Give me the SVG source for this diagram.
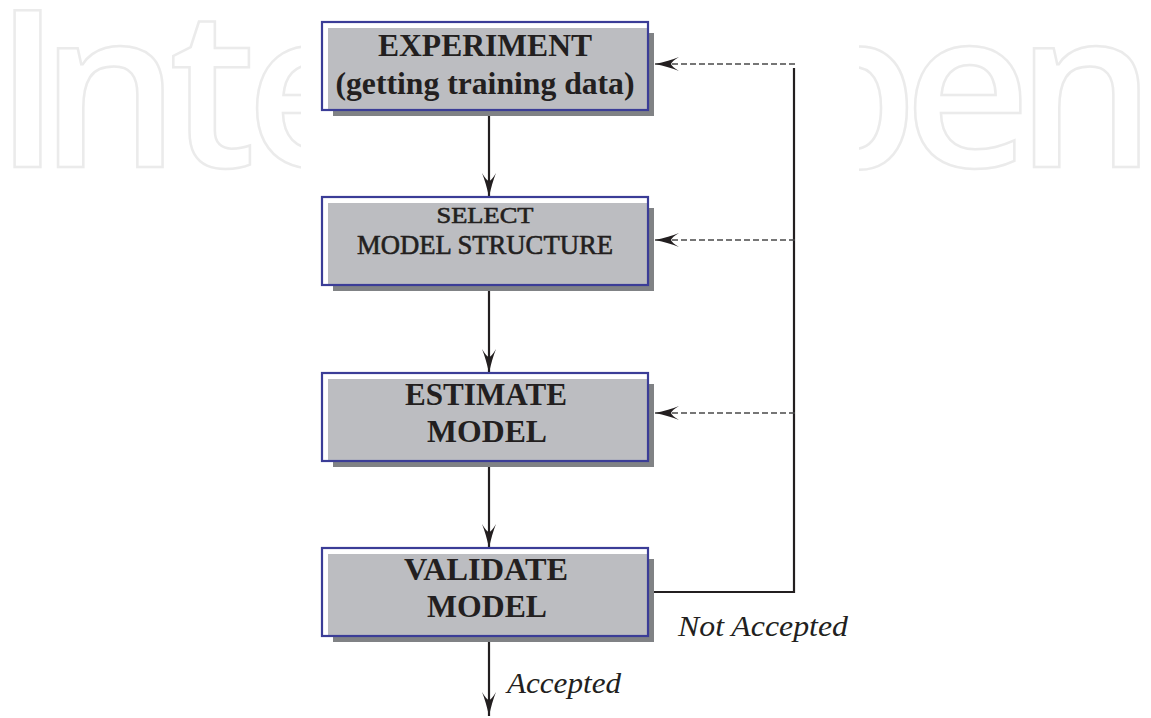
<svg xmlns="http://www.w3.org/2000/svg" width="1151" height="718" viewBox="0 0 1151 718">
<style>
.wm{font-family:"Open Sans",sans-serif;font-size:220px;font-weight:600;fill:#ffffff;stroke:#ebebeb;stroke-width:2.5}
.shadow{fill:#808285}
.face{fill:#bcbdc1}
.frame{fill:none;stroke:#3b3d97;stroke-width:2.2}
.tb{font-family:"Liberation Serif","Times New Roman",serif;font-weight:bold;fill:#231f20;text-anchor:middle}
.tr{font-family:"Liberation Serif","Times New Roman",serif;fill:#231f20;stroke:#231f20;stroke-width:0.6;text-anchor:middle}
.ti{font-family:"Liberation Serif","Times New Roman",serif;font-style:italic;fill:#231f20}
.solid{fill:none;stroke:#231f20;stroke-width:2.2}
.dash{fill:none;stroke:#4a4a4a;stroke-width:1.6;stroke-dasharray:6 3}
</style>
<defs>
<marker id="ah" viewBox="0 0 24 14" refX="24" refY="7" markerWidth="24" markerHeight="14" markerUnits="userSpaceOnUse" orient="auto">
<path d="M24,7 Q10,4 0,0 Q7,4 8,7 Q7,10 0,14 Q10,10 24,7 Z" fill="#231f20"/>
</marker>
<clipPath id="cl"><rect x="0" y="0" width="301" height="718"/></clipPath>
<clipPath id="cr"><rect x="859" y="0" width="292" height="718"/></clipPath>
</defs>
<rect width="1151" height="718" fill="#ffffff"/>
<g id="watermark">
<text class="wm" clip-path="url(#cl)" x="-6 40 169 246" y="167">Inte</text>
<text class="wm" clip-path="url(#cr)" x="609 781 904 1016" y="167">Open</text>
</g>

<g id="connectors">
<line class="solid" x1="489" y1="111" x2="489" y2="197" marker-end="url(#ah)"/>
<line class="solid" x1="489" y1="286" x2="489" y2="373" marker-end="url(#ah)"/>
<line class="solid" x1="489" y1="461" x2="489" y2="548" marker-end="url(#ah)"/>
<line class="solid" x1="489" y1="636" x2="489" y2="716" marker-end="url(#ah)"/>
<polyline class="solid" points="648,592 794,592 794,68"/>
<line class="dash" x1="795" y1="64" x2="655" y2="64" marker-end="url(#ah)"/>
<line class="dash" x1="795" y1="240" x2="655" y2="240" marker-end="url(#ah)"/>
<line class="dash" x1="795" y1="413" x2="655" y2="413" marker-end="url(#ah)"/>
<text class="ti" x="678" y="636" font-size="30" textLength="170" lengthAdjust="spacingAndGlyphs">Not Accepted</text>
<text class="ti" x="507" y="693" font-size="30" textLength="114" lengthAdjust="spacingAndGlyphs">Accepted</text>
</g>

<g id="experiment">
<rect class="shadow" x="333" y="33" width="321" height="83"/>
<rect class="face" x="328" y="28" width="320" height="82"/>
<rect class="frame" x="322" y="22" width="326" height="88"/>
<text class="tb" x="485" y="56" font-size="31" textLength="214" lengthAdjust="spacingAndGlyphs">EXPERIMENT</text>
<text class="tb" x="485" y="94" font-size="31" textLength="299" lengthAdjust="spacingAndGlyphs">(getting training data)</text>
</g>

<g id="select">
<rect class="shadow" x="333" y="208" width="321" height="83"/>
<rect class="face" x="328" y="203" width="320" height="82"/>
<rect class="frame" x="322" y="197" width="326" height="88"/>
<text class="tr" x="485" y="223" font-size="24" textLength="97" lengthAdjust="spacingAndGlyphs">SELECT</text>
<text class="tr" x="485" y="254" font-size="27" textLength="256" lengthAdjust="spacingAndGlyphs">MODEL STRUCTURE</text>
</g>

<g id="estimate">
<rect class="shadow" x="333" y="384" width="321" height="83"/>
<rect class="face" x="328" y="379" width="320" height="82"/>
<rect class="frame" x="322" y="373" width="326" height="88"/>
<text class="tb" x="486" y="405" font-size="32" textLength="162" lengthAdjust="spacingAndGlyphs">ESTIMATE</text>
<text class="tb" x="487" y="442" font-size="32" textLength="120" lengthAdjust="spacingAndGlyphs">MODEL</text>
</g>

<g id="validate">
<rect class="shadow" x="333" y="559" width="321" height="83"/>
<rect class="face" x="328" y="554" width="320" height="82"/>
<rect class="frame" x="322" y="548" width="326" height="88"/>
<text class="tb" x="486" y="580" font-size="32" textLength="164" lengthAdjust="spacingAndGlyphs">VALIDATE</text>
<text class="tb" x="487" y="617" font-size="32" textLength="120" lengthAdjust="spacingAndGlyphs">MODEL</text>
</g>
</svg>
